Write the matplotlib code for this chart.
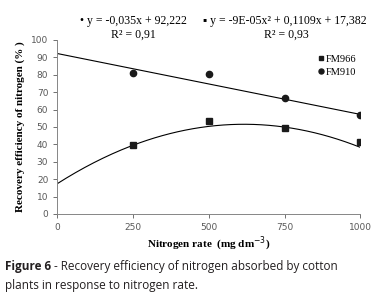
import matplotlib.pyplot as plt
import numpy as np

# nitrogen rates and recovery efficiency
rates = [250, 500, 750, 1000]
fm966 = [39.7, 53.5, 49.5, 41.3]
fm910 = [81.0, 80.5, 66.8, 56.7]

# trendline coefficients as printed on the chart
fm910_coef = [-0.035, 92.222]
fm966_coef = [-9e-05, 0.1109, 17.382]

x_ticks = [0, 250, 500, 750, 1000]
y_ticks = [0, 10, 20, 30, 40, 50, 60, 70, 80, 90, 100]

serif = ['Liberation Serif', 'DejaVu Serif']
grey = '#595959'

fig = plt.figure(figsize=(3.87, 3.03), dpi=100)
ax = fig.add_axes([0.148, 0.294, 0.783, 0.574])

# trendlines
xs = np.linspace(0, 1000, 200)
ax.plot(xs, np.polyval(fm910_coef, xs), color='black', linewidth=0.8)
ax.plot(xs, np.polyval(fm966_coef, xs), color='black', linewidth=0.8)

# points
ax.plot(rates, fm966, 's', color='#1a1a1a', markersize=4.3, label='FM966')
ax.plot(rates, fm910, 'o', color='#1a1a1a', markersize=4.5, label='FM910')

ax.set_xlim(0, 1000)
ax.set_ylim(0, 100)
ax.set_xticks(x_ticks)
ax.set_yticks(y_ticks)
ax.tick_params(labelsize=6.5, colors=grey, length=3, width=0.6)
for lab in ax.get_xticklabels() + ax.get_yticklabels():
    lab.set_color(grey)
ax.spines[['top', 'right']].set_visible(False)
ax.spines[['left', 'bottom']].set_color('#868686')
ax.spines[['left', 'bottom']].set_linewidth(0.7)

ax.set_xlabel('Nitrogen rate  (mg dm$^{-3}$)', family=serif, fontweight='bold',
              fontsize=8, labelpad=2)
ax.set_ylabel('Recovery efficiency of nitrogen (% )', family=serif,
              fontweight='bold', fontsize=8, labelpad=4)

leg = ax.legend(loc='center left', bbox_to_anchor=(0.822, 0.783),
                bbox_transform=fig.transFigure, frameon=False,
                prop={'family': serif, 'size': 7.5}, handlelength=0.6,
                handletextpad=0.15, labelspacing=0.35, markerscale=0.8,
                borderpad=0, borderaxespad=0)

# equation labels
fig.text(0.345, 0.93, '\u2022 y = -0,035x + 92,222', family=['Liberation Serif', 'DejaVu Sans'],
         fontsize=8.5, ha='center', va='center')
fig.text(0.344, 0.885, 'R\u00b2 = 0,91', family=serif, fontsize=8.5,
         ha='center', va='center')
fig.text(0.735, 0.93, '\u25aa y = -9E-05x\u00b2 + 0,1109x + 17,382',
         family=['Liberation Serif', 'DejaVu Sans'], fontsize=8.5,
         ha='center', va='center')
fig.text(0.741, 0.885, 'R\u00b2 = 0,93', family=serif, fontsize=8.5,
         ha='center', va='center')

# caption, bold part first then the rest right after it
cap = ['Open Sans', 'DejaVu Sans']
bold = fig.text(0.012, 0.119, 'Figure 6', family=cap, fontweight='bold',
                fontsize=8.5, color='#231f20', va='center')
fig.canvas.draw()
bb = bold.get_window_extent().transformed(fig.transFigure.inverted())
fig.text(bb.x1, 0.119, ' - Recovery efficiency of nitrogen absorbed by cotton',
         family=cap, fontsize=8.5, color='#231f20', va='center')
fig.text(0.012, 0.059, 'plants in response to nitrogen rate.', family=cap,
         fontsize=8.5, color='#231f20', va='center')

fig.savefig('out.png', dpi=100)
